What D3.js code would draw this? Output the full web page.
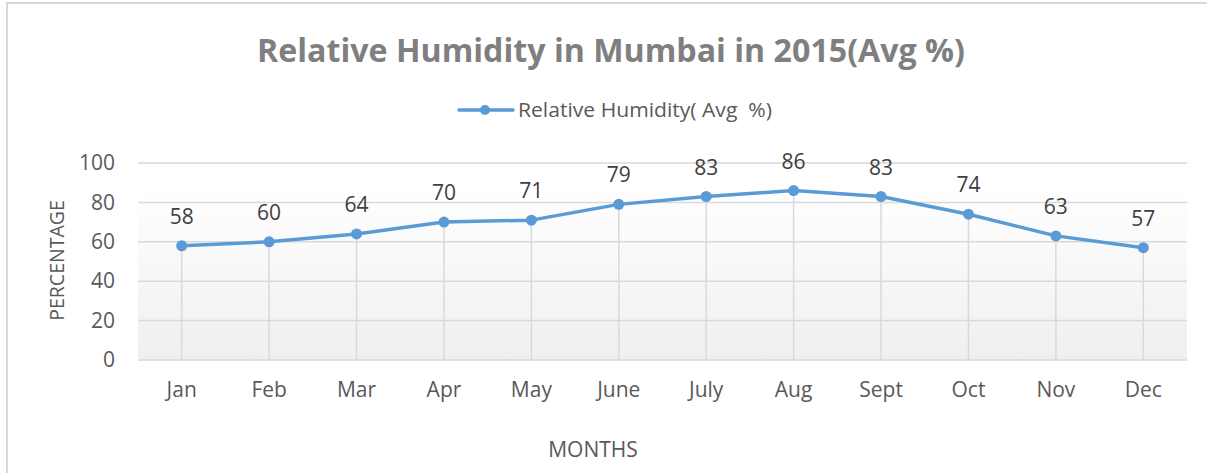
<!DOCTYPE html>
<html>
<head>
<meta charset="utf-8">
<script src="https://cdn.jsdelivr.net/npm/d3@7"></script>
<style>
  html, body { margin: 0; padding: 0; background: #ffffff; }
  svg { display: block; }
  text { font-family: "Open Sans", "DejaVu Sans", sans-serif; }
</style>
</head>
<body>
<svg id="chart" width="1207" height="473"></svg>
<script>
// Monthly average relative humidity, Mumbai 2015
const months = ["Jan", "Feb", "Mar", "Apr", "May", "June", "July", "Aug", "Sept", "Oct", "Nov", "Dec"];
const humidity = [58, 60, 64, 70, 71, 79, 83, 86, 83, 74, 63, 57];
const yTicks = [0, 20, 40, 60, 80, 100];
const seriesName = "Relative Humidity( Avg  %)";
const chartTitle = "Relative Humidity in Mumbai in 2015(Avg %)";

const W = 1207, H = 473;
const margin = { left: 138, right: 20, top: 163, bottom: 113 };
const plotW = W - margin.left - margin.right;
const plotH = H - margin.top - margin.bottom;
const lineColor = "#5b9bd5";
const textColor = "#595959";
const fontSize = 21;

const svg = d3.select("#chart");

// Chart frame
svg.append("rect")
  .attr("x", 7).attr("y", 3)
  .attr("width", W - 6).attr("height", H)
  .attr("fill", "#ffffff")
  .attr("stroke", "#d9d9d9").attr("stroke-width", 2);

const defs = svg.append("defs");
const grad = defs.append("linearGradient")
  .attr("id", "plotFill").attr("x1", 0).attr("y1", 0).attr("x2", 0).attr("y2", 1);
grad.append("stop").attr("offset", "0%").attr("stop-color", "#ffffff");
grad.append("stop").attr("offset", "100%").attr("stop-color", "#efefef");

const x = d3.scaleBand().domain(months).range([0, plotW]).padding(0);
const y = d3.scaleLinear().domain([0, 100]).range([plotH, 0]);

const g = svg.append("g").attr("transform", `translate(${margin.left},${margin.top})`);

// Shaded lower part of the plot area
const shadeTop = plotH * 0.127;
g.append("rect")
  .attr("x", 0).attr("y", shadeTop)
  .attr("width", plotW).attr("height", plotH - shadeTop)
  .attr("fill", "url(#plotFill)");

// Horizontal gridlines
g.append("g")
  .selectAll("line")
  .data(yTicks)
  .join("line")
  .attr("x1", 0).attr("x2", plotW)
  .attr("y1", d => y(d)).attr("y2", d => y(d))
  .attr("stroke", "#d9d9d9").attr("stroke-width", 1.5);

// Y axis tick labels
const yAxis = d3.axisLeft(y).tickValues(yTicks).tickSize(0).tickPadding(23);
const yG = g.append("g").call(yAxis);
yG.select(".domain").remove();
yG.selectAll("text")
  .attr("font-size", fontSize).attr("fill", textColor)
  .attr("font-family", "'Open Sans', sans-serif");

// X axis category labels
const xAxis = d3.axisBottom(x).tickSize(0).tickPadding(22);
const xG = g.append("g").attr("transform", `translate(0,${plotH})`).call(xAxis);
xG.select(".domain").remove();
xG.selectAll("text")
  .attr("font-size", fontSize).attr("fill", textColor)
  .attr("font-family", "'Open Sans', sans-serif");

const cx = m => x(m) + x.bandwidth() / 2;
const data = months.map((m, i) => ({ m, v: humidity[i] }));

// Drop lines from each point to the axis
g.append("g")
  .selectAll("line")
  .data(data)
  .join("line")
  .attr("x1", d => cx(d.m)).attr("x2", d => cx(d.m))
  .attr("y1", d => y(d.v)).attr("y2", plotH)
  .attr("stroke", "#d9d9d9").attr("stroke-width", 1.5);

// Series line
const line = d3.line().x(d => cx(d.m)).y(d => y(d.v));
g.append("path")
  .datum(data)
  .attr("d", line)
  .attr("fill", "none")
  .attr("stroke", lineColor)
  .attr("stroke-width", 3.5)
  .attr("stroke-linejoin", "round");

// Markers
g.append("g")
  .selectAll("circle")
  .data(data)
  .join("circle")
  .attr("cx", d => cx(d.m)).attr("cy", d => y(d.v))
  .attr("r", 5.5)
  .attr("fill", lineColor);

// Value labels
g.append("g")
  .selectAll("text")
  .data(data)
  .join("text")
  .attr("x", d => cx(d.m)).attr("y", d => y(d.v) - 22)
  .attr("text-anchor", "middle")
  .attr("font-size", fontSize).attr("fill", "#404040")
  .text(d => d.v);

// Title
svg.append("text")
  .attr("x", 611).attr("y", 62)
  .attr("text-anchor", "middle")
  .attr("font-size", 33).attr("font-weight", "bold")
  .attr("fill", "#7f7f7f")
  .attr("textLength", 708).attr("lengthAdjust", "spacingAndGlyphs")
  .text(chartTitle);

// Legend
const lg = svg.append("g").attr("transform", "translate(459,110)");
lg.append("line").attr("x1", 0).attr("x2", 54).attr("y1", 0).attr("y2", 0)
  .attr("stroke", lineColor).attr("stroke-width", 3.5).attr("stroke-linecap", "round");
lg.append("circle").attr("cx", 26).attr("cy", 0).attr("r", 5).attr("fill", lineColor);
lg.append("text").attr("x", 59).attr("y", 7)
  .attr("font-size", 20).attr("fill", textColor)
  .attr("xml:space", "preserve")
  .style("white-space", "pre")
  .attr("textLength", 254).attr("lengthAdjust", "spacingAndGlyphs")
  .text(seriesName);

// Axis titles
svg.append("text")
  .attr("transform", `translate(64,${margin.top + plotH / 2 - 1}) rotate(-90)`)
  .attr("text-anchor", "middle")
  .attr("font-size", 19.5).attr("fill", textColor)
  .text("PERCENTAGE");

svg.append("text")
  .attr("x", 593).attr("y", 457)
  .attr("text-anchor", "middle")
  .attr("font-size", fontSize).attr("fill", textColor)
  .text("MONTHS");
</script>
</body>
</html>
